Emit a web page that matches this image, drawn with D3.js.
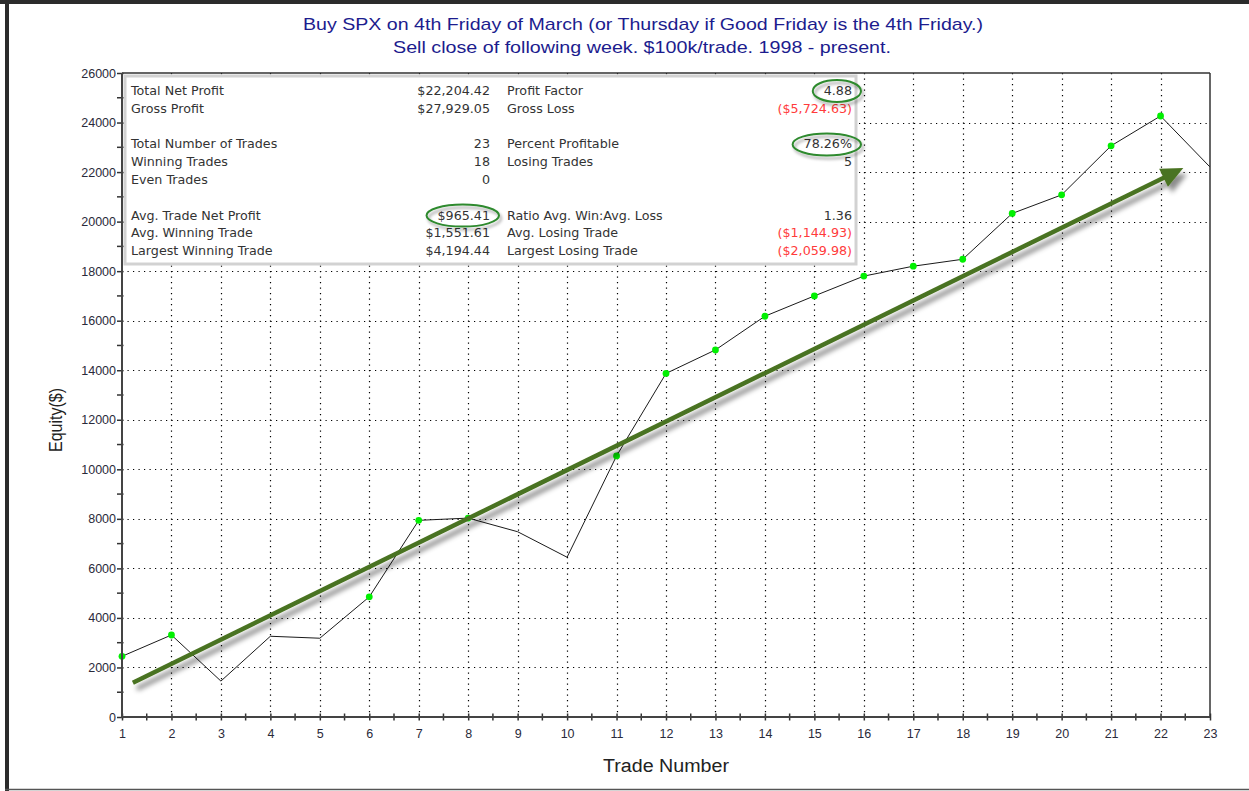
<!DOCTYPE html>
<html><head><meta charset="utf-8">
<script src="https://cdn.jsdelivr.net/npm/d3@7"></script>
<style>html,body{margin:0;padding:0;background:#fff;} svg{display:block;}</style>
</head><body>
<svg id="c" width="1249" height="791"></svg>
<script>
// ---------- data ----------
const titleLines = ["Buy SPX on 4th Friday of March (or Thursday if Good Friday is the 4th Friday.)",
                    "Sell close of following week. $100k/trade. 1998 - present."];
const trades = d3.range(1, 24);
const equity = [2450, 3310, 1450, 3260, 3180, 4850, 7940, 8030, 7480, 6450, 10540, 13870,
                14820, 16180, 17000, 17800, 18200, 18480, 20330, 21080, 23060, 24264, 22204];
const yMajorTicks = d3.range(0, 26001, 2000);
const yMinorTicks = d3.range(1000, 26000, 2000);
const xMinorTicks = d3.range(1.5, 23, 1);
const statsLeftLabels  = ["Total Net Profit", "Gross Profit", "", "Total Number of Trades", "Winning Trades", "Even Trades", "", "Avg. Trade Net Profit", "Avg. Winning Trade", "Largest Winning Trade"];
const statsLeftValues  = ["$22,204.42", "$27,929.05", "", "23", "18", "0", "", "$965.41", "$1,551.61", "$4,194.44"];
const statsRightLabels = ["Profit Factor", "Gross Loss", "", "Percent Profitable", "Losing Trades", "", "", "Ratio Avg. Win:Avg. Loss", "Avg. Losing Trade", "Largest Losing Trade"];
const statsRightValues = ["4.88", "($5,724.63)", "", "78.26%", "5", "", "", "1.36", "($1,144.93)", "($2,059.98)"];
const circledRows = [{col: "right", row: 0}, {col: "right", row: 3}, {col: "left", row: 7}];
const trendArrow = {x1: 1.22, y1: 1380, x2: 22.46, y2: 22160};

// ---------- layout ----------
const svg = d3.select("#c");
const L = 122, R = 1210, T = 73, B = 717;
const x = d3.scaleLinear().domain([1, 23]).range([L, R]);
const y = d3.scaleLinear().domain([0, 26000]).range([B, T]);

const defs = svg.append("defs");
const sh = defs.append("filter").attr("id", "shadow").attr("x", "-20%").attr("y", "-50%").attr("width", "140%").attr("height", "200%");
sh.append("feDropShadow").attr("dx", 4).attr("dy", 6).attr("stdDeviation", 2.5).attr("flood-color", "#000").attr("flood-opacity", 0.45);
const sh2 = defs.append("filter").attr("id", "shadow2").attr("x", "-30%").attr("y", "-60%").attr("width", "160%").attr("height", "220%");
sh2.append("feDropShadow").attr("dx", 2).attr("dy", 3).attr("stdDeviation", 1.5).attr("flood-color", "#000").attr("flood-opacity", 0.35);

// outer frame
svg.append("rect").attr("x", 0).attr("y", 0).attr("width", 1249).attr("height", 4).attr("fill", "#2b2b2b");
svg.append("rect").attr("x", 5).attr("y", 0).attr("width", 4).attr("height", 791).attr("fill", "#2b2b2b");
svg.append("line").attr("x1", 5).attr("x2", 1249).attr("y1", 789.5).attr("y2", 789.5).attr("stroke", "#555").attr("stroke-width", 1.5);

// title
const ttl = svg.append("g").attr("font-family", "'Liberation Sans Narrow','Liberation Sans',Arial,sans-serif").attr("font-size", 17).attr("fill", "#1c1c8e").attr("text-anchor", "middle");
ttl.append("text").attr("x", 643).attr("y", 30).attr("textLength", 680).attr("lengthAdjust", "spacingAndGlyphs").text(titleLines[0]);
ttl.append("text").attr("x", 642).attr("y", 53).attr("textLength", 498).attr("lengthAdjust", "spacingAndGlyphs").text(titleLines[1]);

// grid
const grid = svg.append("g").attr("stroke", "#000").attr("stroke-width", 1.2).attr("stroke-dasharray", "1.2,4.3");
grid.selectAll(".gv").data(trades.slice(1, 22)).join("line")
  .attr("x1", d => Math.round(x(d)) + 0.5).attr("x2", d => Math.round(x(d)) + 0.5).attr("y1", T).attr("y2", B);
grid.selectAll(".gh").data(yMajorTicks.slice(1, 13)).join("line")
  .attr("y1", d => Math.round(y(d)) + 0.5).attr("y2", d => Math.round(y(d)) + 0.5).attr("x1", L).attr("x2", R);

// stats box
const box = svg.append("g");
box.append("rect").attr("x", 125).attr("y", 76).attr("width", 731).attr("height", 188)
  .attr("fill", "#fff").attr("stroke", "#d2d2d2").attr("stroke-width", 3);
const rowY = i => 95 + i * 17.8;
const st = box.append("g").attr("font-family", "'DejaVu Sans',Verdana,sans-serif").attr("font-size", 12.7).attr("fill", "#333");
st.selectAll(".ll").data(statsLeftLabels).join("text").attr("x", 131).attr("y", (d, i) => rowY(i)).text(d => d);
const lv = st.selectAll(".lv").data(statsLeftValues).join("text").attr("x", 490).attr("y", (d, i) => rowY(i)).attr("text-anchor", "end").text(d => d);
st.selectAll(".rl").data(statsRightLabels).join("text").attr("x", 507).attr("y", (d, i) => rowY(i)).text(d => d);
const rv = st.selectAll(".rv").data(statsRightValues).join("text").attr("x", 852).attr("y", (d, i) => rowY(i)).attr("text-anchor", "end")
  .attr("fill", d => d.startsWith("(") ? "#ff3b3b" : "#333").text(d => d);
// ellipses around highlighted values
circledRows.forEach(c => {
  const node = (c.col === "right" ? rv : lv).nodes()[c.row];
  const bb = node.getBBox();
  box.append("ellipse").attr("cx", bb.x + bb.width / 2 - 1).attr("cy", bb.y + bb.height / 2 + 0.5)
    .attr("rx", bb.width / 2 + 10).attr("ry", bb.height / 2 + 3.5)
    .attr("fill", "none").attr("stroke", "#2f8a2f").attr("stroke-width", 2).attr("filter", "url(#shadow2)");
});

// equity line
svg.append("path").datum(equity)
  .attr("d", d3.line().x((d, i) => x(trades[i])).y(d => y(d)))
  .attr("fill", "none").attr("stroke", "#1a1a1a").attr("stroke-width", 1);
let runMax = 0;
const highs = equity.map((d, i) => { const h = d > runMax; if (h) runMax = d; return {t: trades[i], v: d, h}; }).filter(d => d.h);
svg.selectAll(".dot").data(highs).join("circle")
  .attr("cx", d => x(d.t)).attr("cy", d => y(d.v)).attr("r", 3.4).attr("fill", "#00f000");

// trend arrow
const ax1 = x(trendArrow.x1), ay1 = y(trendArrow.y1), ax2 = x(trendArrow.x2), ay2 = y(trendArrow.y2);
const len = Math.hypot(ax2 - ax1, ay2 - ay1), ux = (ax2 - ax1) / len, uy = (ay2 - ay1) / len;
const hl = 22, hw = 10;
const bx = ax2 - ux * hl, by = ay2 - uy * hl;
const ag = svg.append("g").attr("filter", "url(#shadow)");
ag.append("line").attr("x1", ax1).attr("y1", ay1).attr("x2", bx + ux * 2).attr("y2", by + uy * 2)
  .attr("stroke", "#4a7320").attr("stroke-width", 4.5);
ag.append("polygon").attr("points", [[ax2, ay2], [bx - uy * hw, by + ux * hw], [bx + uy * hw, by - ux * hw]].map(p => p.join(",")).join(" "))
  .attr("fill", "#4a7320");

// plot border
svg.append("line").attr("x1", L).attr("x2", R).attr("y1", T).attr("y2", T).attr("stroke", "#333").attr("stroke-width", 1.5);
svg.append("line").attr("x1", R).attr("x2", R).attr("y1", T).attr("y2", B).attr("stroke", "#333").attr("stroke-width", 1.5);

// axes
const yAx = svg.append("g").attr("transform", `translate(${L},0)`)
  .call(d3.axisLeft(y).tickValues(yMajorTicks).tickSize(5).tickPadding(1).tickFormat(d3.format("d")));
yAx.select(".domain").remove();
yAx.selectAll(".tick line").attr("x2", -5).attr("x1", 1.5).attr("stroke", "#333").attr("stroke-width", 1.5);
yAx.selectAll("text").attr("font-family", "'Liberation Sans',Arial,sans-serif").attr("font-size", 12.5).attr("fill", "#2a2a3a");
svg.append("g").selectAll("line").data(yMinorTicks).join("line")
  .attr("x1", L - 5).attr("x2", L + 1.5).attr("y1", d => y(d)).attr("y2", d => y(d)).attr("stroke", "#333").attr("stroke-width", 1.5);

const xAx = svg.append("g").attr("transform", `translate(0,${B})`)
  .call(d3.axisBottom(x).tickValues(trades).tickSize(3).tickPadding(9).tickFormat(d3.format("d")));
xAx.select(".domain").remove();
xAx.selectAll(".tick line").attr("y1", -3.5).attr("y2", 3.5).attr("stroke", "#333").attr("stroke-width", 1.5);
xAx.selectAll("text").attr("font-family", "'Liberation Sans',Arial,sans-serif").attr("font-size", 12.5).attr("fill", "#2a2a3a");
svg.append("g").selectAll("line").data(xMinorTicks).join("line")
  .attr("y1", B - 3.5).attr("y2", B + 3.5).attr("x1", d => x(d)).attr("x2", d => x(d)).attr("stroke", "#333").attr("stroke-width", 1.5);

svg.append("line").attr("x1", L).attr("x2", L).attr("y1", T).attr("y2", B + 1).attr("stroke", "#444").attr("stroke-width", 2);
svg.append("line").attr("x1", L - 1).attr("x2", R).attr("y1", B).attr("y2", B).attr("stroke", "#444").attr("stroke-width", 2);

// axis titles
svg.append("text").attr("x", 666).attr("y", 772).attr("text-anchor", "middle")
  .attr("font-family", "'Liberation Sans Narrow','Liberation Sans',Arial,sans-serif").attr("font-size", 18).attr("fill", "#222")
  .attr("textLength", 126).attr("lengthAdjust", "spacingAndGlyphs").text("Trade Number");
svg.append("text").attr("transform", "translate(62,420) rotate(-90)").attr("text-anchor", "middle")
  .attr("font-family", "'Liberation Sans Narrow','Liberation Sans',Arial,sans-serif").attr("font-size", 18).attr("fill", "#222")
  .attr("textLength", 64).attr("lengthAdjust", "spacingAndGlyphs").text("Equity($)");
</script>
</body></html>
